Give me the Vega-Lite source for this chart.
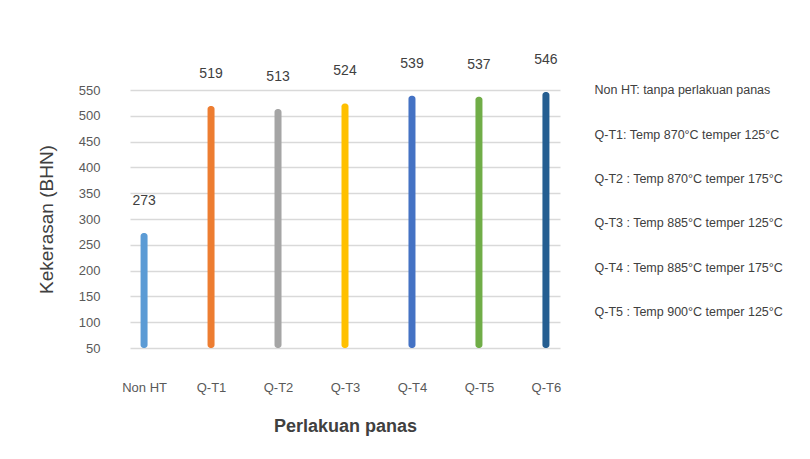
{
  "$schema": "https://vega.github.io/schema/vega-lite/v6.json",
  "width": 430,
  "height": 258,
  "autosize": {"type": "none"},
  "padding": {"left": 130, "top": 90, "right": 250, "bottom": 111},
  "background": "white",
  "config": {"view": {"stroke": null}, "font": "Liberation Sans"},
  "data": {"values": [
    {"cat": "Non HT", "val": 273, "desc": "Non HT: tanpa perlakuan panas"},
    {"cat": "Q-T1", "val": 519, "desc": "Q-T1: Temp 870°C temper 125°C"},
    {"cat": "Q-T2", "val": 513, "desc": "Q-T2 : Temp 870°C temper 175°C"},
    {"cat": "Q-T3", "val": 524, "desc": "Q-T3 : Temp 885°C temper 125°C"},
    {"cat": "Q-T4", "val": 539, "desc": "Q-T4 : Temp 885°C temper 175°C"},
    {"cat": "Q-T5", "val": 537, "desc": "Q-T5 : Temp 900°C temper 125°C"},
    {"cat": "Q-T6", "val": 546, "desc": "Q-T6 : Temp 900°C temper 175°C"}
  ]},
  "encoding": {
    "x": {
      "field": "cat", "type": "nominal", "sort": null,
      "scale": {"type": "point", "padding": 0.21},
      "axis": {
        "labelAngle": 0, "domain": false, "ticks": false, "labelPadding": 33,
        "labelFontSize": 13, "labelColor": "#595959",
        "title": "Perlakuan panas", "titleFontSize": 18, "titleFontWeight": "bold",
        "titleColor": "#404040", "titlePadding": 23
      }
    },
    "y": {
      "field": "val", "type": "quantitative",
      "scale": {"domain": [50, 550], "zero": false, "nice": false},
      "axis": {
        "values": [50, 100, 150, 200, 250, 300, 350, 400, 450, 500, 550],
        "domain": false, "ticks": false, "grid": true, "gridColor": "#D9D9D9", "gridWidth": 1.5,
        "labelFontSize": 13, "labelColor": "#595959", "labelPadding": 30,
        "title": "Kekerasan (BHN)", "titleFontSize": 19, "titleFontWeight": "normal",
        "titleColor": "#404040", "titlePadding": 22
      }
    }
  },
  "layer": [
    {
      "mark": {"type": "bar", "width": 7, "cornerRadius": 3},
      "encoding": {
        "y2": {"datum": 50},
        "color": {
          "field": "cat", "type": "nominal", "sort": null,
          "scale": {
            "domain": ["Non HT", "Q-T1", "Q-T2", "Q-T3", "Q-T4", "Q-T5", "Q-T6"],
            "range": ["#5B9BD5", "#ED7D31", "#A5A5A5", "#FFC000", "#4472C4", "#70AD47", "#255E91"]
          },
          "legend": null
        }
      }
    },
    {
      "mark": {"type": "text", "dy": -32, "fontSize": 14, "color": "#404040", "baseline": "middle"},
      "encoding": {"text": {"field": "val", "type": "quantitative"}}
    },
    {
      "mark": {"type": "point", "opacity": 0},
      "encoding": {
        "shape": {
          "field": "desc", "type": "nominal",
          "legend": {
            "title": null, "orient": "none", "legendX": 452, "legendY": -6,
            "padding": 0, "symbolOpacity": 0, "symbolSize": 0, "symbolStrokeWidth": 0,
            "labelOffset": 0, "rowPadding": 31.4, "labelFontSize": 12.5,
            "labelFont": "Liberation Sans", "labelColor": "#404040", "labelLimit": 300,
            "values": [
              "Non HT: tanpa perlakuan panas",
              "Q-T1: Temp 870°C temper 125°C",
              "Q-T2 : Temp 870°C temper 175°C",
              "Q-T3 : Temp 885°C temper 125°C",
              "Q-T4 : Temp 885°C temper 175°C",
              "Q-T5 : Temp 900°C temper 125°C"
            ]
          }
        }
      }
    }
  ]
}
